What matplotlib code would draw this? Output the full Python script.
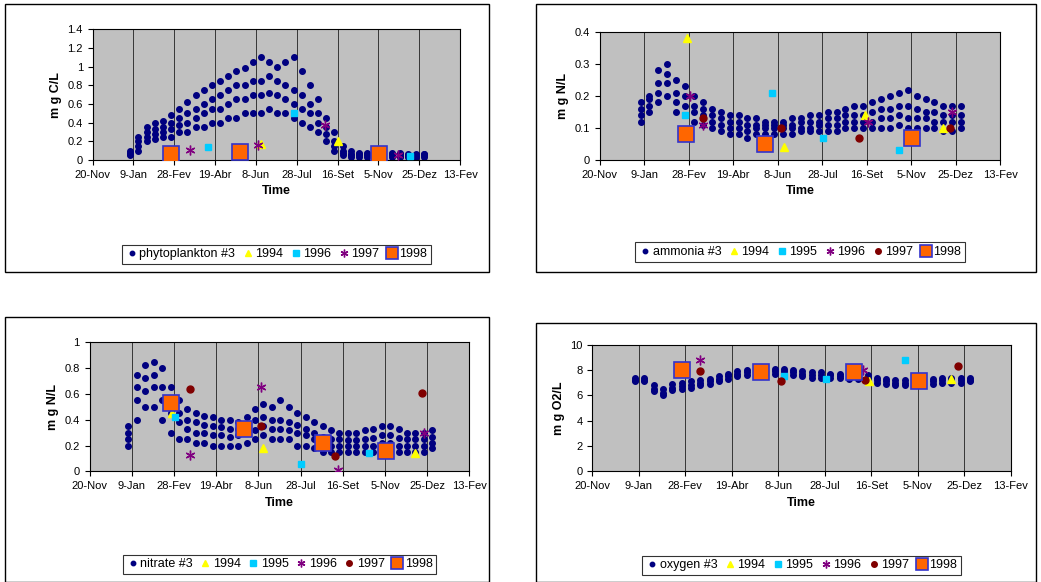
import numpy as np
import matplotlib
matplotlib.use("Agg")
from matplotlib import pyplot as plt
from matplotlib.patches import Rectangle

# x = day of year (1 = 1-Jan)
tick_pos = [-41, 9, 59, 109, 159, 209, 259, 309, 359, 409]
tick_lab = ['20-Nov', '9-Jan', '28-Fev', '19-Abr', '8-Jun', '28-Jul', '16-Set', '5-Nov', '25-Dez', '13-Fev']

days = [5, 15, 25, 35, 45, 55, 65, 75, 85, 95, 105, 115, 125, 135, 145, 155, 165, 175, 185,
        195, 205, 215, 225, 235, 245, 255, 265, 275, 285, 295, 305, 315, 325, 335, 345, 355, 365]

phyto_low = [.05,.1,.2,.22,.25,.25,.3,.3,.35,.35,.4,.4,.45,.45,.5,.5,.5,.55,.5,.5,.45,.4,.35,.3,.2,.1,.05,.03,.03,.03,.03,.03,.03,.03,.03,.03,.03]
phyto_mid1 = [.07,.15,.25,.28,.3,.33,.38,.4,.45,.5,.55,.55,.6,.65,.65,.7,.7,.72,.7,.65,.6,.55,.5,.4,.28,.15,.08,.05,.05,.05,.05,.05,.05,.04,.04,.04,.05]
phyto_mid2 = [.08,.2,.3,.33,.35,.4,.45,.5,.55,.6,.65,.7,.75,.8,.8,.85,.85,.9,.85,.8,.75,.7,.6,.5,.35,.2,.1,.07,.06,.06,.06,.06,.06,.06,.05,.05,.06]
phyto_high = [.1,.25,.35,.4,.42,.48,.55,.62,.7,.75,.8,.85,.9,.95,.98,1.05,1.1,1.05,1.0,1.05,1.1,.95,.8,.65,.45,.3,.15,.1,.08,.08,.08,.08,.08,.08,.07,.07,.07]

amm_low = [.12,.15,.18,.2,.15,.14,.12,.11,.1,.09,.08,.08,.07,.08,.08,.08,.08,.08,.09,.09,.09,.09,.09,.1,.1,.1,.1,.1,.1,.11,.1,.1,.1,.1,.09,.09,.1]
amm_mid1 = [.14,.17,.21,.24,.18,.17,.15,.14,.12,.11,.1,.1,.09,.1,.1,.1,.1,.1,.1,.1,.11,.11,.11,.12,.12,.12,.12,.13,.13,.14,.13,.13,.13,.12,.12,.12,.12]
amm_mid2 = [.16,.19,.24,.27,.21,.2,.17,.16,.14,.13,.12,.12,.11,.11,.11,.11,.11,.11,.12,.12,.12,.13,.13,.14,.14,.14,.15,.16,.16,.17,.17,.16,.15,.15,.14,.14,.14]
amm_high = [.18,.2,.28,.3,.25,.23,.2,.18,.16,.15,.14,.14,.13,.13,.12,.12,.12,.13,.13,.14,.14,.15,.15,.16,.17,.17,.18,.19,.2,.21,.22,.2,.19,.18,.17,.17,.17]

nit_low = [.2,.4,.5,.5,.4,.3,.25,.25,.22,.22,.2,.2,.2,.2,.22,.25,.28,.25,.25,.25,.2,.2,.18,.15,.15,.15,.15,.15,.15,.15,.15,.15,.15,.15,.15,.15,.18]
nit_mid1 = [.25,.55,.62,.65,.55,.45,.38,.33,.3,.3,.28,.28,.27,.28,.3,.32,.35,.33,.33,.32,.3,.28,.25,.22,.2,.2,.2,.2,.2,.2,.22,.22,.2,.2,.2,.2,.22]
nit_mid2 = [.3,.65,.72,.75,.65,.55,.45,.4,.38,.36,.35,.34,.33,.33,.36,.4,.42,.4,.4,.38,.36,.33,.3,.27,.25,.25,.24,.24,.25,.26,.28,.28,.26,.25,.25,.25,.27]
nit_high = [.35,.75,.82,.85,.8,.65,.55,.48,.45,.43,.42,.4,.4,.38,.42,.48,.52,.5,.55,.5,.45,.42,.38,.35,.32,.3,.3,.3,.32,.33,.35,.35,.33,.3,.3,.3,.32]

oxy_low = [7.1,7.1,6.3,6.0,6.4,6.5,6.6,6.8,6.9,7.1,7.3,7.5,7.6,7.7,7.7,7.7,7.7,7.6,7.5,7.4,7.4,7.4,7.4,7.3,7.3,7.2,7.0,6.9,6.8,6.8,6.8,6.9,6.9,7.0,7.0,7.0,7.1]
oxy_mid = [7.2,7.2,6.5,6.2,6.6,6.7,6.8,7.0,7.1,7.3,7.5,7.7,7.8,7.9,7.9,7.9,7.9,7.8,7.7,7.6,7.6,7.6,7.5,7.5,7.5,7.4,7.2,7.1,7.0,7.0,7.0,7.1,7.1,7.2,7.2,7.2,7.2]
oxy_high = [7.4,7.4,6.8,6.5,6.9,7.0,7.1,7.2,7.3,7.5,7.7,7.9,8.0,8.1,8.1,8.1,8.1,8.0,7.9,7.8,7.8,7.7,7.7,7.7,7.7,7.6,7.4,7.3,7.2,7.2,7.2,7.3,7.3,7.4,7.4,7.4,7.4]

# observations: (day, value)
phyto_obs = {'1994': [(259, 0.2), (165, 0.17)],
             '1996': [(100, 0.14), (205, 0.5), (348, 0.04)],
             '1997': [(78, 0.11), (162, 0.16), (243, 0.38), (333, 0.05)],
             '1998': [(55, 0.07), (140, 0.09), (310, 0.07)]}
amm_obs = {'1994': [(57, 0.38), (166, 0.04), (257, 0.14), (345, 0.1)],
           '1995': [(55, 0.14), (152, 0.21), (210, 0.07), (295, 0.03)],
           '1996': [(60, 0.2), (75, 0.11), (260, 0.12), (355, 0.15)],
           '1997': [(75, 0.13), (163, 0.1), (250, 0.07), (352, 0.1)],
           '1998': [(56, 0.08), (145, 0.05), (310, 0.07)]}
nit_obs = {'1994': [(57, 0.45), (165, 0.18), (345, 0.14)],
           '1995': [(60, 0.42), (210, 0.06), (290, 0.14)],
           '1996': [(78, 0.13), (162, 0.65), (253, 0.01), (355, 0.3)],
           '1997': [(78, 0.64), (162, 0.35), (250, 0.12), (353, 0.61)],
           '1998': [(55, 0.53), (142, 0.33), (235, 0.22), (310, 0.16)]}
oxy_obs = {'1994': [(257, 7.1), (345, 7.3)],
           '1995': [(56, 8.2), (165, 7.5), (210, 7.3), (295, 8.8)],
           '1996': [(75, 8.8), (250, 8.0)],
           '1997': [(75, 7.9), (162, 7.1), (252, 7.2), (352, 8.3)],
           '1998': [(55, 8.0), (140, 7.8), (240, 7.8), (310, 7.1)]}

# marker style per legend label (phyto panel uses shifted labels)
style_std = {'1994': dict(marker='^', color='yellow', ms=6, ls=''),
             '1995': dict(marker='s', color='#00ccff', ms=5, ls=''),
             '1996': dict(marker=(6, 2, 0), color='#800080', ms=7, ls='', mew=1),
             '1997': dict(marker='o', color='#800000', ms=5, ls=''),
             '1998': dict(marker='s', mfc='#ff6600', mec='#3333cc', ms=11, ls='', mew=1.2)}
style_phyto = {'1994': style_std['1994'], '1996': style_std['1995'],
               '1997': style_std['1996'], '1998': style_std['1998']}

fig = plt.figure(figsize=(10.41, 5.82), dpi=100)
plt.rcParams['font.family'] = 'Liberation Sans'

def panel(rect, frame, layers, name, obs, styles, ylim, ystep, ylabel, fmt, leg_y):
    fig.patches.append(Rectangle((frame[0], frame[1]), frame[2], frame[3], transform=fig.transFigure,
                                 fill=False, ec='black', lw=1))
    ax = fig.add_axes(rect)
    ax.set_facecolor('#c0c0c0')
    for x in tick_pos:
        ax.axvline(x, color='black', lw=0.5, zorder=0)
    h = []
    for i, lay in enumerate(layers):
        l, = ax.plot(days, lay, 'o', color='#000080', ms=4, zorder=2)
        if i == 0:
            l.set_label(name)
            h.append(l)
    for lab, pts in obs.items():
        xs = [p[0] for p in pts]
        ys = [p[1] for p in pts]
        l, = ax.plot(xs, ys, label=lab, zorder=3, **styles[lab])
        h.append(l)
    ax.set_xlim(-41, 409)
    ax.set_ylim(*ylim)
    ax.set_xticks(tick_pos)
    ax.set_xticklabels(tick_lab, fontsize=8)
    yt = np.arange(ylim[0], ylim[1] + ystep / 2, ystep)
    ax.set_yticks(yt)
    ax.set_yticklabels([fmt(v) for v in yt], fontsize=8)
    ax.set_xlabel('Time', fontsize=9, fontweight='bold')
    ax.set_ylabel(ylabel, fontsize=9, fontweight='bold')
    leg = ax.legend(handles=h, loc='center', bbox_to_anchor=(0.5, leg_y), ncol=len(h), fontsize=9,
                    frameon=True, fancybox=False, edgecolor='black', handletextpad=0.1,
                    columnspacing=0.5, handlelength=1.0, borderpad=0.3, markerscale=0.8)
    leg.get_frame().set_linewidth(0.8)
    return ax

f1 = lambda v: '%g' % round(v, 1)
panel([0.089, 0.725, 0.353, 0.225], [0.005, 0.533, 0.465, 0.46],
      [phyto_low, phyto_mid1, phyto_mid2, phyto_high], 'phytoplankton #3', phyto_obs, style_phyto,
      (0, 1.4), 0.2, 'm g C/L', f1, -0.72)
panel([0.576, 0.725, 0.385, 0.22], [0.515, 0.533, 0.48, 0.46],
      [amm_low, amm_mid1, amm_mid2, amm_high], 'ammonia #3', amm_obs, style_std,
      (0, 0.4), 0.1, 'm g N/L', f1, -0.72)
panel([0.086, 0.19, 0.365, 0.222], [0.005, 0.0, 0.465, 0.455],
      [nit_low, nit_mid1, nit_mid2, nit_high], 'nitrate #3', nit_obs, style_std,
      (0, 1.0), 0.2, 'm g N/L', f1, -0.72)
panel([0.569, 0.19, 0.402, 0.218], [0.515, 0.0, 0.48, 0.445],
      [oxy_low, oxy_mid, oxy_high], 'oxygen #3', oxy_obs, style_std,
      (0, 10), 2, 'm g O2/L', lambda v: '%d' % v, -0.74)

fig.savefig('out.png', dpi=100)
